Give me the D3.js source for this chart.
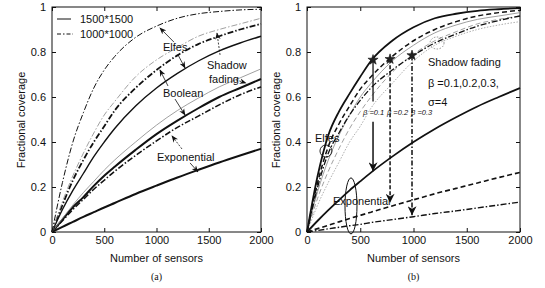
<!DOCTYPE html>
<html>
<head>
<meta charset="utf-8">
<script src="https://cdn.jsdelivr.net/npm/d3@7"></script>
<style>
body { margin: 0; background: #fff; }
text { font-family: Arial, "Liberation Sans", sans-serif; fill: #111; }
</style>
</head>
<body>
<svg id="fig" width="545" height="288"></svg>
<script>
// number of sensors (x values shared by every curve)
var sensors = [0, 100, 200, 300, 400, 500, 600, 800, 1000, 1200, 1400, 1600, 1800, 2000];

// panel (a): 1500*1500 and 1000*1000 areas
var elfes1000   = [0, .22, .40, .53, .64, .72, .78, .865, .915, .95, .97, .98, .987, .99];
var shadow1000  = [0, .135, .25, .35, .44, .52, .58, .69, .765, .82, .87, .90, .925, .95];
var boolean1000 = [0, .12, .23, .32, .40, .47, .54, .64, .72, .785, .835, .87, .90, .925];
var elfes1500   = [0, .10, .185, .26, .335, .40, .46, .56, .64, .705, .76, .805, .84, .87];
var shadow1500  = [0, .06, .12, .175, .225, .275, .32, .40, .475, .54, .595, .645, .685, .725];
var boolean1500 = [0, .055, .11, .155, .205, .25, .29, .365, .435, .495, .55, .60, .64, .68];
var expo1000    = [0, .05, .10, .145, .19, .23, .27, .34, .405, .465, .515, .565, .61, .645];
var expo1500    = [0, .023, .045, .067, .088, .109, .129, .169, .206, .242, .276, .309, .34, .37];

// panel (b): beta = 0.1, 0.2, 0.3
var elfesB1  = [0, .25, .43, .535, .615, .69, .76, .85, .91, .95, .97, .983, .99, .995];
var elfesB2  = [0, .22, .38, .48, .56, .635, .69, .78, .85, .90, .935, .96, .975, .985];
var elfesB3  = [0, .20, .35, .44, .52, .585, .64, .72, .785, .84, .88, .915, .94, .96];
var shadowB1 = [0, .18, .32, .43, .52, .60, .66, .76, .83, .885, .92, .945, .96, .975];
var shadowB2 = [0, .15, .27, .37, .46, .535, .60, .71, .79, .85, .89, .925, .945, .96];
var shadowB3 = [0, .12, .22, .31, .40, .47, .55, .66, .76, .83, .87, .90, .92, .935];
var expoB1   = [0, .05, .097, .142, .185, .225, .264, .335, .40, .458, .51, .558, .60, .64];
var expoB2   = [0, .015, .03, .045, .06, .074, .088, .116, .143, .17, .194, .218, .242, .265];
var expoB3   = [0, .007, .014, .021, .028, .034, .042, .055, .068, .082, .094, .107, .12, .133];

var yTicks = [0, 0.2, 0.4, 0.6, 0.8, 1];
var xTicks = [0, 500, 1000, 1500, 2000];
var legendLabels = ["1500*1500", "1000*1000"];
var betaLabels = ["\u03b2 =0.1", "\u03b2 =0.2", "\u03b2 =0.3"];
var betaSensors = [620, 780, 986];
var betaStarValues = [0.765, 0.768, 0.785];
var betaTipValues = [0.27, 0.13, 0.075];

var DASHDOT = "6,2,1.5,2", DASH = "5,3";

var svg = d3.select("#fig");
var defs = svg.append("defs");
defs.append("marker").attr("id", "arr")
  .attr("viewBox", "0 0 10 10").attr("refX", 9).attr("refY", 5)
  .attr("markerUnits", "userSpaceOnUse").attr("markerWidth", 7).attr("markerHeight", 7)
  .attr("orient", "auto")
  .append("path").attr("d", "M0,1 L10,5 L0,9 L3,5 z").attr("fill", "#111");
defs.append("marker").attr("id", "big")
  .attr("viewBox", "0 0 10 10").attr("refX", 10).attr("refY", 5)
  .attr("markerUnits", "userSpaceOnUse").attr("markerWidth", 12).attr("markerHeight", 9)
  .attr("orient", "auto")
  .append("path").attr("d", "M0,0 L10,5 L0,10 L3,5 z").attr("fill", "#111");

function panel(left, right, label) {
  var x = d3.scaleLinear().domain([0, 2000]).range([left, right]);
  var y = d3.scaleLinear().domain([0, 1]).range([232, 7]);
  var g = svg.append("g");

  g.append("g").attr("transform", "translate(" + left + ",0)")
    .call(d3.axisLeft(y).tickValues(yTicks).tickSize(-4).tickPadding(6).tickFormat(d3.format("")))
    .call(function(a) { a.select(".domain").remove(); a.selectAll("text").style("font-size", "11px").attr("font-family", null); });
  g.append("g").attr("transform", "translate(" + right + ",0)")
    .call(d3.axisRight(y).tickValues(yTicks).tickSize(-4).tickFormat(""))
    .select(".domain").remove();
  g.append("g").attr("transform", "translate(0,232)")
    .call(d3.axisBottom(x).tickValues(xTicks).tickSize(-4).tickPadding(4).tickFormat(d3.format("d")))
    .call(function(a) { a.select(".domain").remove(); a.selectAll("text").style("font-size", "11px").attr("font-family", null); });
  g.append("g").attr("transform", "translate(0,7)")
    .call(d3.axisTop(x).tickValues(xTicks).tickSize(-4).tickFormat(""))
    .select(".domain").remove();
  g.selectAll(".tick line").attr("stroke", "#111");

  g.append("rect").attr("x", left).attr("y", 7).attr("width", right - left).attr("height", 225)
    .attr("fill", "none").attr("stroke", "#111").attr("stroke-width", 1);

  g.append("text").attr("x", (left + right) / 2).attr("y", 262).attr("text-anchor", "middle")
    .style("font-size", "11px").text("Number of sensors");
  g.append("text").attr("transform", "translate(" + (left - 27) + ",120) rotate(-90)")
    .attr("text-anchor", "middle").style("font-size", "11px").text("Fractional coverage");
  g.append("text").attr("x", (left + right) / 2).attr("y", 280).attr("text-anchor", "middle")
    .style("font-size", "10px").style("font-family", "'Liberation Serif', serif").text(label);

  return { g: g, x: x, y: y };
}

function curve(p, values, w, col, dash) {
  var line = d3.line()
    .x(function(d, i) { return p.x(sensors[i]); })
    .y(function(d) { return p.y(d); })
    .curve(d3.curveMonotoneX);
  p.g.append("path").datum(values)
    .attr("fill", "none").attr("stroke", col).attr("stroke-width", w)
    .attr("stroke-dasharray", dash || null).attr("d", line);
}

function arrow(p, n0, v0, n1, v1, marker, dash, w) {
  p.g.append("line")
    .attr("x1", p.x(n0)).attr("y1", p.y(v0)).attr("x2", p.x(n1)).attr("y2", p.y(v1))
    .attr("stroke", "#111").attr("stroke-width", w || 0.8)
    .attr("stroke-dasharray", dash || null)
    .attr("marker-end", marker ? "url(#" + marker + ")" : null);
}

function label(p, n, v, txt, size, extra) {
  var t = p.g.append("text").attr("x", p.x(n)).attr("y", p.y(v)).style("font-size", (size || 11) + "px").text(txt);
  if (extra) t.style("font-style", extra);
  return t;
}

// ---------- panel (a)
var pa = panel(52, 261, "(a)");
curve(pa, expo1500, 2, "#111");
curve(pa, expo1000, 1.6, "#111", DASHDOT);
curve(pa, boolean1500, 2, "#111");
curve(pa, shadow1500, 0.8, "#888");
curve(pa, boolean1000, 1.8, "#111", DASHDOT);
curve(pa, elfes1500, 1.4, "#111");
curve(pa, shadow1000, 0.8, "#888", DASHDOT);
curve(pa, elfes1000, 1, "#111", DASHDOT);

// legend
pa.g.append("line").attr("x1", 57).attr("x2", 71).attr("y1", 19).attr("y2", 19).attr("stroke", "#111").attr("stroke-width", 1);
pa.g.append("line").attr("x1", 57).attr("x2", 73).attr("y1", 34).attr("y2", 34).attr("stroke", "#111").attr("stroke-width", 1).attr("stroke-dasharray", "4,2,1.5,2");
pa.g.append("text").attr("x", 80).attr("y", 23).style("font-size", "11px").text(legendLabels[0]);
pa.g.append("text").attr("x", 80).attr("y", 38).style("font-size", "11px").text(legendLabels[1]);

label(pa, 1062, 0.804, "Elfes");
arrow(pa, 1167, 0.844, 1033, 0.907, "arr");
arrow(pa, 1206, 0.787, 1273, 0.729, "arr");
label(pa, 1483, 0.724, "Shadow");
label(pa, 1502, 0.662, "fading");
arrow(pa, 1608, 0.787, 1579, 0.884, "arr", "2,1.5");
arrow(pa, 1761, 0.676, 1856, 0.662, "arr", "2,1.5");
label(pa, 1062, 0.60, "Boolean");
arrow(pa, 1110, 0.649, 1033, 0.72, "arr");
arrow(pa, 1177, 0.591, 1273, 0.52, "arr");
label(pa, 1005, 0.316, "Exponential");
arrow(pa, 1244, 0.369, 1148, 0.427, "arr", "2,1.5");
arrow(pa, 1321, 0.307, 1397, 0.267, "arr");

// ---------- panel (b)
var pb = panel(307, 520, "(b)");
curve(pb, expoB3, 1.4, "#111", DASHDOT);
curve(pb, expoB2, 1.6, "#111", DASH);
curve(pb, expoB1, 1.8, "#111");
curve(pb, shadowB3, 0.8, "#999", "1.5,1.5");
curve(pb, shadowB2, 0.8, "#888", DASH);
curve(pb, shadowB1, 0.8, "#888");
curve(pb, elfesB3, 1.3, "#111", DASHDOT);
curve(pb, elfesB2, 1.5, "#111", DASH);
curve(pb, elfesB1, 1.8, "#111");

var star = d3.symbol().type(d3.symbolStar).size(32);
var vdash = [null, "4,2", "5,2,1.5,2"];
betaSensors.forEach(function(n, i) {
  if (i === 0) {
    arrow(pb, n, betaStarValues[i], n, 0.58, null, null, 1.3);
    arrow(pb, n, 0.49, n, betaTipValues[i], "big", null, 1.5);
  } else {
    arrow(pb, n, betaStarValues[i], n, betaTipValues[i], "big", vdash[i], 1.5);
  }
  pb.g.append("path").attr("d", star)
    .attr("transform", "translate(" + pb.x(n) + "," + pb.y(betaStarValues[i]) + ")")
    .attr("fill", "#222").attr("stroke", "#111").attr("stroke-width", 0.6);
});
var betaStarts = [526, 751, 977];
betaLabels.forEach(function(t, i) {
  label(pb, betaStarts[i], 0.52, t, 7.5, "italic");
});

label(pb, 1136, 0.738, "Shadow fading", 11);
label(pb, 1136, 0.644, "\u03b2 =0.1,0.2,0.3,", 11);
label(pb, 1136, 0.56, "\u03c3=4", 11);
label(pb, 75, 0.40, "Elfes", 11);
label(pb, 244, 0.12, "Exponential", 11);

pb.g.append("ellipse").attr("cx", pb.x(178)).attr("cy", pb.y(0.36)).attr("rx", 6).attr("ry", 6)
  .attr("fill", "none").attr("stroke", "#111").attr("stroke-width", 0.9);
pb.g.append("ellipse").attr("cx", pb.x(413)).attr("cy", pb.y(0.116)).attr("rx", 6).attr("ry", 28)
  .attr("fill", "none").attr("stroke", "#111").attr("stroke-width", 1);
pb.g.append("ellipse").attr("cx", pb.x(1221)).attr("cy", pb.y(0.84)).attr("rx", 7).attr("ry", 6)
  .attr("fill", "none").attr("stroke", "#777").attr("stroke-width", 0.8).attr("stroke-dasharray", "1.5,1.5");
</script>
</body>
</html>
